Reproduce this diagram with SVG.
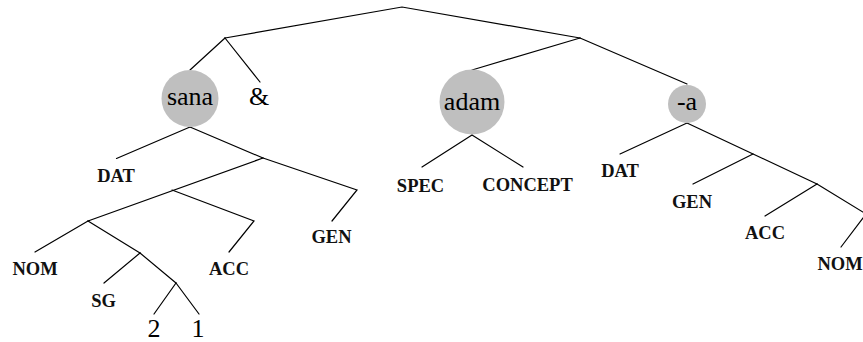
<svg xmlns="http://www.w3.org/2000/svg" width="863" height="342" viewBox="0 0 863 342">
<style>
.e{fill:none;stroke:#000;stroke-width:1.2;stroke-linecap:round;stroke-linejoin:miter}
.big{font-family:"Liberation Serif","Times New Roman",serif;font-size:26px;text-anchor:middle;fill:#000}
.lab{font-family:"Liberation Serif","Times New Roman",serif;font-size:18.5px;font-weight:bold;text-anchor:middle;fill:#111}
.c{fill:#bfbfbf}
</style>
<rect width="863" height="342" fill="#fff"/>
<g id="connectors">
<polyline class="e" points="225,38 402,7 580,38"/>
<line class="e" x1="225" y1="38" x2="190" y2="70"/>
<line class="e" x1="225" y1="38" x2="260" y2="82"/>
<line class="e" x1="190" y1="127" x2="116.5" y2="158.5"/>
<line class="e" x1="190" y1="127" x2="263" y2="158"/>
<polyline class="e" points="263,158 357,190 332,221"/>
<line class="e" x1="263" y1="158" x2="88" y2="221"/>
<polyline class="e" points="172,190 254,221 229,252"/>
<line class="e" x1="88" y1="221" x2="35" y2="252"/>
<line class="e" x1="88" y1="221" x2="140" y2="253"/>
<line class="e" x1="140" y1="253" x2="104" y2="283"/>
<line class="e" x1="140" y1="253" x2="176" y2="283"/>
<line class="e" x1="176" y1="283" x2="154" y2="314"/>
<line class="e" x1="176" y1="283" x2="199" y2="314"/>
<line class="e" x1="580" y1="38" x2="472" y2="70"/>
<line class="e" x1="580" y1="38" x2="687" y2="84"/>
<line class="e" x1="472" y1="135" x2="422" y2="167"/>
<line class="e" x1="472" y1="135" x2="523" y2="167"/>
<line class="e" x1="687" y1="123" x2="620" y2="154"/>
<line class="e" x1="687" y1="123" x2="817" y2="184"/>
<line class="e" x1="753" y1="154" x2="693" y2="184"/>
<line class="e" x1="817" y1="184" x2="765" y2="216"/>
<polyline class="e" points="817,184 866,214 841,247"/>
</g>
<g id="sana"><circle class="c" cx="190" cy="98.5" r="28.5"/><text class="big" x="190" y="105">sana</text></g>
<g id="amp"><text class="big" x="259" y="105">&amp;</text></g>
<g id="adam"><circle class="c" cx="472" cy="102" r="32.5"/><text class="big" x="472" y="110">adam</text></g>
<g id="a"><circle class="c" cx="687" cy="104" r="19"/><text class="big" x="687" y="110">-a</text></g>
<g id="dat1"><text class="lab" x="116" y="182">DAT</text></g>
<g id="gen1"><text class="lab" x="331.5" y="243">GEN</text></g>
<g id="acc1"><text class="lab" x="229" y="275">ACC</text></g>
<g id="nom1"><text class="lab" x="35" y="275">NOM</text></g>
<g id="sg"><text class="lab" x="103.5" y="306.5">SG</text></g>
<g id="n2"><text class="big" x="154" y="337" font-size="25">2</text></g>
<g id="n1"><text class="big" x="198" y="337" font-size="25">1</text></g>
<g id="spec"><text class="lab" x="420.5" y="191.5">SPEC</text></g>
<g id="concept"><text class="lab" x="527.5" y="191">CONCEPT</text></g>
<g id="dat2"><text class="lab" x="620" y="176.5">DAT</text></g>
<g id="gen2"><text class="lab" x="692" y="207.5">GEN</text></g>
<g id="acc2"><text class="lab" x="765" y="239">ACC</text></g>
<g id="nom2"><text class="lab" x="840" y="269.5">NOM</text></g>
</svg>
